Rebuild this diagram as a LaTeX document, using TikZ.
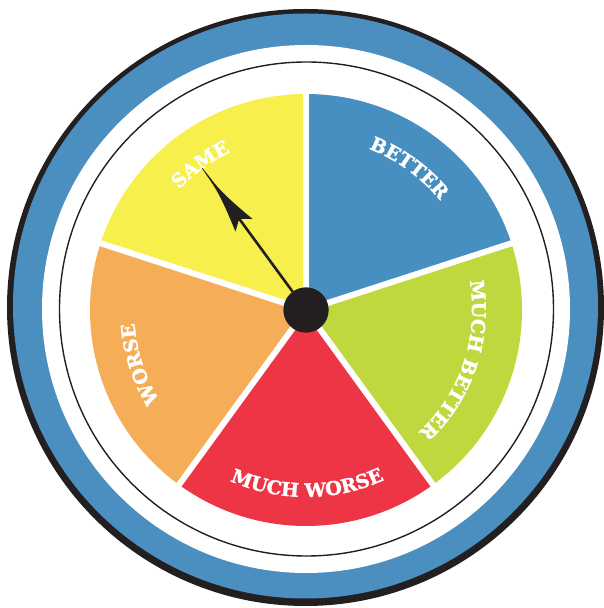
\documentclass[tikz,border=0pt]{standalone}
\usepackage{fontspec}
\newfontfamily\wf{DejaVu Serif}[BoldFeatures={FakeBold=1.6}]
\usetikzlibrary{decorations.text}
\definecolor{rimblack}{HTML}{231F20}
\definecolor{ringblue}{HTML}{4A8FC0}
\definecolor{cblue}{HTML}{478FC0}
\definecolor{cyellow}{HTML}{F7EF4C}
\definecolor{corange}{HTML}{F6AD58}
\definecolor{cred}{HTML}{EE3545}
\definecolor{cgreen}{HTML}{BED83E}
\newcommand\lblfont{\wf\bfseries\fontsize{19}{19}\selectfont\color{white}}
\tikzset{
  gapline/.style={white, line width=6pt},
  needleline/.style={rimblack, line width=2.6pt},
  hubdot/.style={circle, fill=rimblack, minimum size=45pt, inner sep=0pt},
  lbl/.style={decorate, decoration={text along path, text align=center, text={#1}}}
}
\begin{document}
\begin{tikzpicture}[x=1pt,y=1pt]
\useasboundingbox (0,0) rectangle (604,608);
\fill[white] (0,0) rectangle (604,608);
% rings
\fill[rimblack] (305.5,300.5) circle[radius=298.5];
\fill[ringblue] (305.5,302) circle[radius=292.5];
\fill[white] (306,299) circle[radius=264];
\draw[rimblack, line width=1.4pt] (306.5,299) circle[radius=247];
\begin{scope}[shift={(306,298)}]
  % wedges
  \fill[cblue]   (0,0) -- (18:216)  arc[start angle=18,  end angle=90,  radius=216] -- cycle;
  \fill[cyellow] (0,0) -- (90:216)  arc[start angle=90,  end angle=162, radius=216] -- cycle;
  \fill[corange] (0,0) -- (162:216) arc[start angle=162, end angle=234, radius=216] -- cycle;
  \fill[cred]    (0,0) -- (234:216) arc[start angle=234, end angle=306, radius=216] -- cycle;
  \fill[cgreen]  (0,0) -- (306:216) arc[start angle=306, end angle=378, radius=216] -- cycle;
  \foreach \a in {18,90,162,234,306} \draw[gapline] (0,0) -- (\a:222);
  % labels
  \path[lbl={|\lblfont|BETTER}] (99:173) arc[start angle=99, end angle=9, radius=173];
  \path[lbl={|\lblfont|SAME}] (171:175) arc[start angle=171, end angle=81, radius=175];
  \path[lbl={|\lblfont|MUCH BETTER}] (41.4:166) arc[start angle=41.4, end angle=-78.6, radius=166];
  \path[lbl={|\lblfont|WORSE}] (243:172) arc[start angle=243, end angle=153, radius=172];
  \path[lbl={|\lblfont|MUCH WORSE}] (-149.6:187) arc[start angle=-149.6, end angle=-29.6, radius=187];
  % needle
  \node[hubdot] (hub) at (0,0) {};
  \coordinate (tip) at (126.2:176);
  \coordinate (notch) at (126.2:113);
  \draw[needleline] (hub) -- (notch);
  \begin{scope}[rotate=126.2]
    \fill[rimblack] (113,0) -- (105,10.6) .. controls (124,6) and (140,2) .. (156,1)
      -- (176,0.3) -- (176,-0.3) -- (156,-1) .. controls (140,-2) and (124,-6) .. (105,-10.6) -- cycle;
  \end{scope}
  \node[hubdot] at (hub) {};
\end{scope}
\end{tikzpicture}
\end{document}
